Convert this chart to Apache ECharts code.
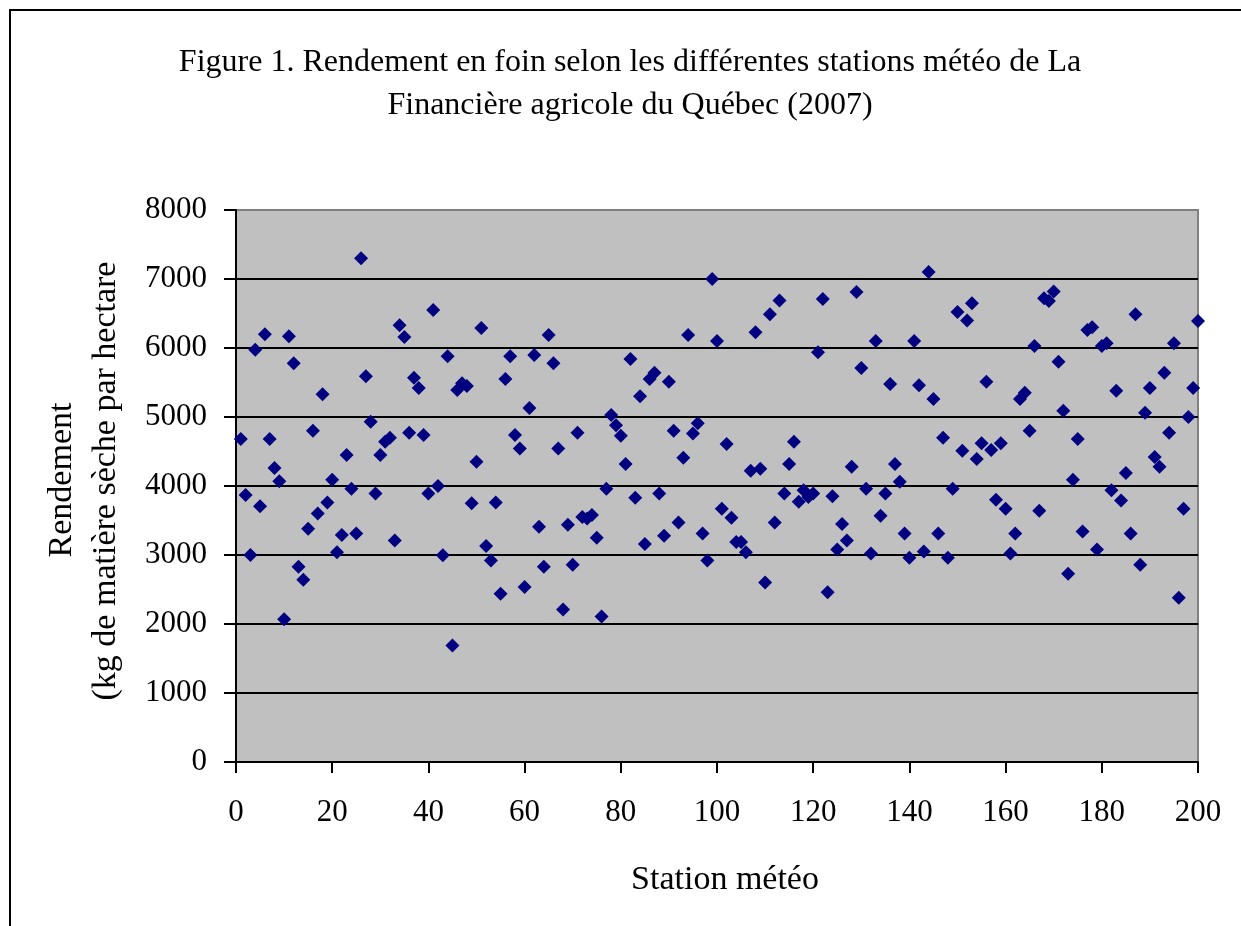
<!DOCTYPE html>
<html>
<head>
<meta charset="utf-8">
<script src="https://cdn.jsdelivr.net/npm/echarts@6/dist/echarts.min.js"></script>
<style>
  html, body { margin: 0; padding: 0; background: #ffffff; }
  #chart { width: 1241px; height: 926px; }
</style>
</head>
<body>
<div id="chart"></div>
<script>
// Station numbers (1..200) and hay yield per station, kg DM/ha
const stations = [
  1,2,3,4,5,6,7,8,9,10,11,12,13,14,15,16,17,18,19,20,
  21,22,23,24,25,26,27,28,29,30,31,32,33,34,35,36,37,38,39,40,
  41,42,43,44,45,46,47,48,49,50,51,52,53,54,55,56,57,58,59,60,
  61,62,63,64,65,66,67,68,69,70,71,72,73,74,75,76,77,78,79,80,
  81,82,83,84,85,86,87,88,89,90,91,92,93,94,95,96,97,98,99,100,
  101,102,103,104,105,106,107,108,109,110,111,112,113,114,115,116,117,118,119,120,
  121,122,123,124,125,126,127,128,129,130,131,132,133,134,135,136,137,138,139,140,
  141,142,143,144,145,146,147,148,149,150,151,152,153,154,155,156,157,158,159,160,
  161,162,163,164,165,166,167,168,169,170,171,172,173,174,175,176,177,178,179,180,
  181,182,183,184,185,186,187,188,189,190,191,192,193,194,195,196,197,198,199,200
];
const rendement = [
  4680,3870,3000,5975,3705,6200,4680,4260,4070,2070,6170,5780,2830,2640,3380,4800,3600,5330,3760,4090,
  3040,3290,4450,3960,3310,7300,5590,4930,3890,4450,4640,4700,3210,6330,6160,4770,5570,5420,4740,3890,
  6550,4000,2995,5880,1690,5390,5490,5450,3750,4350,6290,3130,2920,3760,2440,5550,5880,4740,4545,2535,
  5130,5900,3410,2830,6190,5780,4545,2210,3440,2860,4770,3550,3530,3580,3250,2110,3960,5030,4880,4730,
  4320,5840,3830,5300,3160,5550,5640,3890,3280,5510,4800,3470,4410,6190,4760,4910,3310,2920,7000,6100,
  3670,4610,3540,3190,3190,3040,4220,6230,4250,2600,6490,3470,6690,3890,4320,4640,3770,3940,3840,3890,
  5940,6710,2460,3850,3080,3450,3210,4280,6810,5710,3960,3020,6100,3570,3890,5480,4320,4060,3310,2960,
  6100,5460,3050,7100,5260,3310,4700,2960,3960,6520,4510,6400,6650,4390,4620,5510,4520,3800,4620,3670,
  3020,3310,5260,5350,4800,6030,3640,6720,6680,6820,5800,5090,2730,4090,4680,3340,6260,6300,3080,6030,
  6070,3940,5380,3790,4190,3310,6490,2860,5060,5420,4420,4280,5640,4770,6070,2380,3670,5000,5420,6390
];
const titleLines = [
  'Figure 1. Rendement en foin selon les différentes stations météo de La',
  'Financière agricole du Québec (2007)'
];
const yTitleLines = ['Rendement', '(kg de matière sèche par hectare'];
const xTitle = 'Station météo';

const serif = '"Liberation Serif", "Times New Roman", serif';
const points = stations.map((s, i) => [s, rendement[i]]);

// gridlines black, except the top one that merges with the grey plot border
const splitColors = ['#000', '#000', '#000', '#000', '#000', '#000', '#000', '#000', '#808080'];

const chart = echarts.init(document.getElementById('chart'), null, { renderer: 'canvas' });

chart.setOption({
  animation: false,
  backgroundColor: '#ffffff',
  grid: {
    left: 236, top: 210, width: 962, height: 552,
    show: true, backgroundColor: '#c0c0c0', borderColor: '#808080', borderWidth: 2
  },
  xAxis: {
    type: 'value', min: 0, max: 200, interval: 20,
    axisLine: { show: true, onZero: false, lineStyle: { color: '#000', width: 2 } },
    axisTick: { show: true, inside: false, length: 11, lineStyle: { color: '#000', width: 2 } },
    axisLabel: { margin: 35, color: '#000', fontFamily: serif, fontSize: 31 },
    splitLine: { show: false }
  },
  yAxis: {
    type: 'value', min: 0, max: 8000, interval: 1000,
    axisLine: { show: true, onZero: false, lineStyle: { color: '#000', width: 2 } },
    axisTick: { show: true, inside: false, length: 12, lineStyle: { color: '#000', width: 2 } },
    axisLabel: { margin: 29, color: '#000', fontFamily: serif, fontSize: 31, formatter: v => String(v) },
    splitLine: { show: true, lineStyle: { color: splitColors, width: 2 } }
  },
  series: [{
    type: 'scatter',
    data: points,
    symbol: 'diamond',
    symbolSize: 14,
    itemStyle: { color: '#000080', opacity: 1 }
  }],
  graphic: [
    {
      type: 'rect', silent: true,
      shape: { x: 10, y: 10, width: 1260, height: 950 },
      style: { fill: 'none', stroke: '#000', lineWidth: 2 }
    },
    {
      type: 'text', silent: true, x: 630, y: 63,
      style: { text: titleLines[0], fill: '#000', font: '32px ' + serif, textAlign: 'center', textVerticalAlign: 'middle' }
    },
    {
      type: 'text', silent: true, x: 630, y: 106,
      style: { text: titleLines[1], fill: '#000', font: '32px ' + serif, textAlign: 'center', textVerticalAlign: 'middle' }
    },
    {
      type: 'text', silent: true, x: 62, y: 480, rotation: Math.PI / 2,
      style: { text: yTitleLines[0], fill: '#000', font: '34px ' + serif, textAlign: 'center', textVerticalAlign: 'middle' }
    },
    {
      type: 'text', silent: true, x: 106, y: 481, rotation: Math.PI / 2,
      style: { text: yTitleLines[1], fill: '#000', font: '34px ' + serif, textAlign: 'center', textVerticalAlign: 'middle' }
    },
    {
      type: 'text', silent: true, x: 725, y: 880,
      style: { text: xTitle, fill: '#000', font: '34px ' + serif, textAlign: 'center', textVerticalAlign: 'middle' }
    }
  ]
});
</script>
</body>
</html>
